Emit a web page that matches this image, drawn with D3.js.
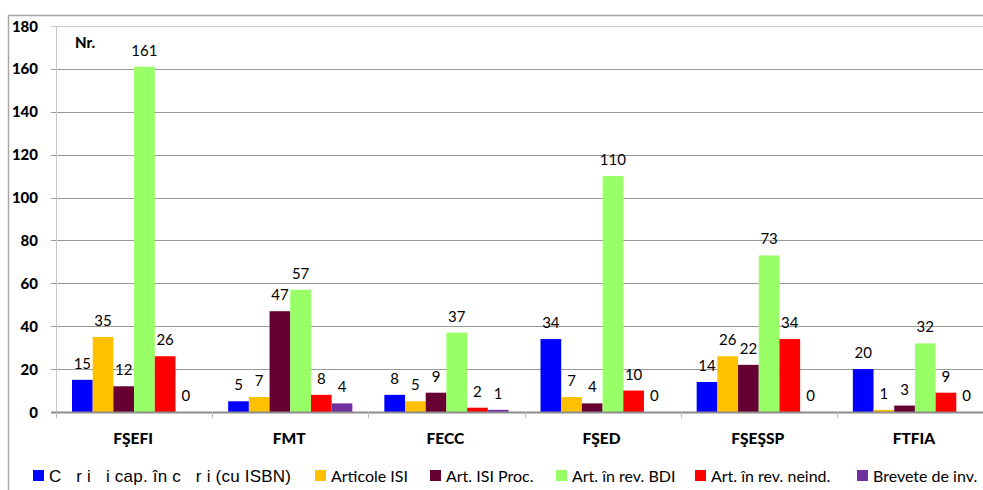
<!DOCTYPE html>
<html>
<head>
<meta charset="utf-8">
<script src="https://cdn.jsdelivr.net/npm/d3@7"></script>
<style>
  html, body { margin: 0; padding: 0; background: #fff; }
  svg { display: block; }
</style>
</head>
<body>
<svg id="chart" width="983" height="490"></svg>
<script>
const categories = ["FŞEFI", "FMT", "FECC", "FŞED", "FŞEŞSP", "FTFIA"];
const seriesNames = ["C   r i   i cap. în c   r i (cu ISBN)", "Articole ISI", "Art. ISI Proc.", "Art. în rev. BDI", "Art. în rev. neind.", "Brevete de inv."];
const seriesColors = ["#0000FF", "#FFC000", "#660033", "#99FF66", "#FF0000", "#7030A0"];
const carti = [15, 5, 8, 34, 14, 20];
const articoleISI = [35, 7, 5, 7, 26, 1];
const artISIProc = [12, 47, 9, 4, 22, 3];
const artBDI = [161, 57, 37, 110, 73, 32];
const artNeind = [26, 8, 2, 10, 34, 9];
const brevete = [0, 4, 1, 0, 0, 0];
const yTicks = [0, 20, 40, 60, 80, 100, 120, 140, 160, 180];

const seriesValues = [carti, articoleISI, artISIProc, artBDI, artNeind, brevete];

const svg = d3.select("#chart");
const pLeft = 56, pRight = 993, pTop = 26, pBottom = 412;

const x0 = d3.scaleBand().domain(categories).range([pLeft, pRight]).padding(0);
const bw = x0.bandwidth();
const x1 = d3.scaleBand().domain(d3.range(seriesNames.length))
  .range([bw * 0.1025, bw * 0.8975]).padding(0);
const y = d3.scaleLinear().domain([0, 180]).range([pBottom, pTop]);

// outer frame
svg.append("line").attr("x1", 8).attr("x2", 983).attr("y1", 15.5).attr("y2", 15.5)
  .attr("stroke", "#a6a6a6").attr("stroke-width", 1.5);
svg.append("line").attr("x1", 8.5).attr("x2", 8.5).attr("y1", 15).attr("y2", 490)
  .attr("stroke", "#a6a6a6").attr("stroke-width", 1.5);

// gridlines
svg.append("g").selectAll("line").data(yTicks.filter(d => d > 0)).join("line")
  .attr("x1", pLeft - 5).attr("x2", pRight)
  .attr("y1", d => Math.round(y(d)) + 0.5).attr("y2", d => Math.round(y(d)) + 0.5)
  .attr("stroke", d => d === 180 ? "#c8c8c8" : "#999")
  .attr("stroke-width", 1);

// y axis line
svg.append("line").attr("x1", pLeft + 0.5).attr("x2", pLeft + 0.5).attr("y1", pTop).attr("y2", pBottom)
  .attr("stroke", "#c8c8c8").attr("stroke-width", 1);

// y tick labels
svg.append("g").selectAll("text").data(yTicks).join("text")
  .attr("x", 38).attr("y", d => y(d) + 5.5)
  .attr("text-anchor", "end")
  .attr("font-family", "Lato, 'Open Sans', sans-serif")
  .attr("font-weight", "900").attr("font-size", 15)
  .attr("fill", "#000")
  .text(d => d);

// bars
const g = svg.append("g");
categories.forEach((c, ci) => {
  seriesValues.forEach((vals, si) => {
    const v = vals[ci];
    const bx = x0(c) + x1(si);
    if (v > 0) {
      g.append("rect")
        .attr("x", bx).attr("y", y(v))
        .attr("width", x1.bandwidth()).attr("height", y(0) - y(v))
        .attr("fill", seriesColors[si]);
    }
    g.append("text")
      .attr("x", bx + x1.bandwidth() / 2)
      .attr("y", y(v) - 11)
      .attr("text-anchor", "middle")
      .attr("font-family", "Lato, 'Open Sans', sans-serif")
      .attr("font-size", 15)
      .attr("fill", "#000")
      .text(v);
  });
});

// x axis line
svg.append("line").attr("x1", pLeft - 5).attr("x2", pRight).attr("y1", pBottom + 0.5).attr("y2", pBottom + 0.5)
  .attr("stroke", "#8c8c8c").attr("stroke-width", 2);
// category ticks
svg.append("g").selectAll("line").data(categories).join("line")
  .attr("x1", d => Math.round(x0(d)) + 0.5).attr("x2", d => Math.round(x0(d)) + 0.5)
  .attr("y1", pBottom).attr("y2", pBottom + 6)
  .attr("stroke", "#bbb").attr("stroke-width", 1);

// category labels
svg.append("g").selectAll("text").data(categories).join("text")
  .attr("x", d => x0(d) + bw * 0.5 - 1)
  .attr("y", 444)
  .attr("text-anchor", "middle")
  .attr("font-family", "Lato, 'Open Sans', sans-serif")
  .attr("font-weight", "900").attr("font-size", 15.5)
  .attr("fill", "#000")
  .text(d => d);

// Nr. label
svg.append("text").attr("x", 75).attr("y", 48)
  .attr("font-family", "Lato, 'Open Sans', sans-serif")
  .attr("font-weight", "900").attr("font-size", 15)
  .text("Nr.");

// legend
const legendX = [33, 315, 430, 556, 695, 857];
const lg = svg.append("g");
seriesNames.forEach((name, i) => {
  const t = lg.append("text").attr("x", legendX[i] + 16).attr("y", 482)
    .attr("font-family", i === 0 ? "'Liberation Sans', Arial, sans-serif" : "Lato, 'Open Sans', sans-serif")
    .attr("font-size", i === 0 ? 17 : 16)
    .style("white-space", "pre")
    .attr("xml:space", "preserve")
    .text(name);
  if (i === 0) t.attr("textLength", 242).attr("lengthAdjust", "spacing");
  lg.append("rect").attr("x", legendX[i]).attr("y", 470).attr("width", 11).attr("height", 11)
    .attr("fill", seriesColors[i]);
});
</script>
</body>
</html>
